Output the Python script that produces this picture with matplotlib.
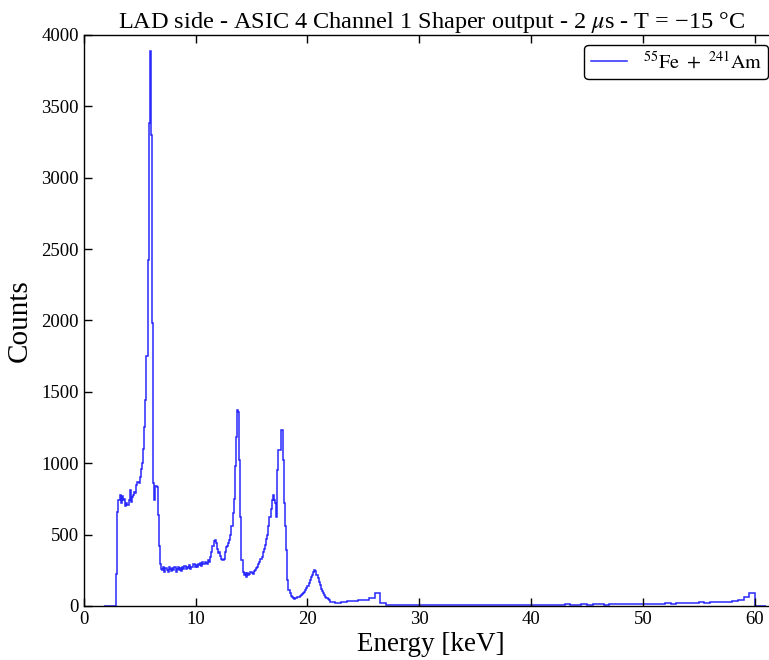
import numpy as np
import matplotlib
matplotlib.use("Agg")
import matplotlib.pyplot as plt

plt.rcParams['font.family'] = ['Liberation Serif', 'DejaVu Serif']
plt.rcParams['mathtext.fontset'] = 'stix'

# spectrum, fine binning (0.1 keV) from 1.8 keV to 22.0 keV
fine_start = 1.8
fine_width = 0.1
counts_fine = [
    0, 0, 0, 0, 0, 0, 0, 0, 0, 0, 0, 220,                 # 1.8 - 2.9
    660, 740, 780, 720, 770, 740, 750, 700, 720, 710,     # 3.0 - 3.9
    740, 810, 730, 760, 780, 800, 790, 850, 870, 860,     # 4.0 - 4.9
    900, 960, 1000, 1100, 1250, 1440, 1750, 2420, 3380, 3890,  # 5.0 - 5.9
    3300, 1980, 860, 740, 840, 830, 640, 420, 290, 260,   # 6.0 - 6.9
    250, 270, 240, 265, 250, 235, 270, 255, 245, 265,     # 7.0 - 7.9
    250, 270, 240, 260, 275, 250, 265, 245, 270, 260,     # 8.0 - 8.9
    280, 255, 270, 265, 285, 260, 275, 270, 290, 275,     # 9.0 - 9.9
    285, 270, 295, 285, 300, 280, 305, 290, 310, 300,     # 10.0 - 10.9
    295, 320, 305, 340, 380, 420, 455, 465, 440, 400,     # 11.0 - 11.9
    370, 380, 350, 330, 320, 330, 380, 410, 420, 440,     # 12.0 - 12.9
    460, 500, 560, 650, 750, 980, 1180, 1370, 1360, 1020,  # 13.0 - 13.9
    625, 320, 240, 215, 230, 200, 230, 215, 225, 240,     # 14.0 - 14.9
    230, 220, 245, 250, 265, 275, 295, 310, 330, 345,     # 15.0 - 15.9
    380, 400, 430, 470, 500, 560, 620, 680, 740, 780,     # 16.0 - 16.9
    740, 720, 625, 950, 1090, 1090, 1230, 1235, 1020, 720,  # 17.0 - 17.9
    560, 390, 180, 110, 90, 70, 60, 55, 50, 55,           # 18.0 - 18.9
    58, 60, 65, 70, 75, 82, 90, 100, 110, 125,            # 19.0 - 19.9
    140, 160, 180, 200, 215, 240, 250, 245, 215, 195,     # 20.0 - 20.9
    170, 145, 120, 105, 90, 78, 65, 55, 48, 40,           # 21.0 - 21.9
]

# spectrum, coarse binning (0.5 keV) from 22.0 keV to 61.0 keV
tail_start = 22.0
tail_width = 0.5
counts_tail = [
    28, 22, 30, 32, 35, 38, 42, 55, 88, 20,               # 22.0 - 26.5
    8, 6, 5, 7, 5, 6, 8, 5, 6, 7,                         # 27.0 - 31.5
    5, 8, 6, 5, 7, 6, 8, 5, 7, 6,                         # 32.0 - 36.5
    8, 7, 5, 9, 6, 8, 7, 9, 6, 8,                         # 37.0 - 41.5
    9, 7, 10, 8, 9, 11, 8, 10, 12, 9,                     # 42.0 - 46.5
    11, 10, 12, 11, 13, 12, 14, 13, 16, 15,               # 47.0 - 51.5
    17, 16, 19, 18, 21, 22, 24, 22, 26, 24,               # 52.0 - 56.5
    26, 28, 32, 38, 60, 92, 2, 0,                         # 57.0 - 60.5
]

edges_fine = fine_start + fine_width * np.arange(len(counts_fine) + 1)
edges_tail = tail_start + tail_width * np.arange(len(counts_tail) + 1)
edges = np.concatenate([edges_fine, edges_tail[1:]])
counts = np.array(counts_fine + counts_tail, dtype=float)

fig = plt.figure(figsize=(7.69, 6.6), dpi=100)
# the right spine sits just outside the saved picture, as in the original
ax = fig.add_axes([0.109, 0.082, 0.903, 0.865])

ax.stairs(counts, edges, color='#2828ff', linewidth=1.1,
          label=r'$^{55}\mathrm{Fe}\ +\ {}^{241}\mathrm{Am}$')

ax.set_xlim(0, 62.1)
ax.set_ylim(0, 4000)
ax.set_xticks([0, 10, 20, 30, 40, 50, 60])
ax.set_yticks(np.arange(0, 4001, 500))
ax.tick_params(direction='in', top=True, right=False, labelsize=13.5,
               length=5.5, width=1)
for s in ax.spines.values():
    s.set_linewidth(1.0)

ax.set_xlabel('Energy [keV]', fontsize=19.5, labelpad=3)
ax.set_ylabel('Counts', fontsize=21, labelpad=6)
ax.set_title('LAD side - ASIC 4 Channel 1 Shaper output - 2 $\\mu$s - T = \u221215 \u00b0C',
             fontsize=17.5, pad=5)

leg = ax.legend(loc='upper right', fontsize=14.5, fancybox=True,
                edgecolor='black', framealpha=1, handlelength=1.8,
                borderpad=0.3, borderaxespad=0.5)
leg.get_frame().set_linewidth(1.0)

fig.savefig('out.png', dpi=100)
